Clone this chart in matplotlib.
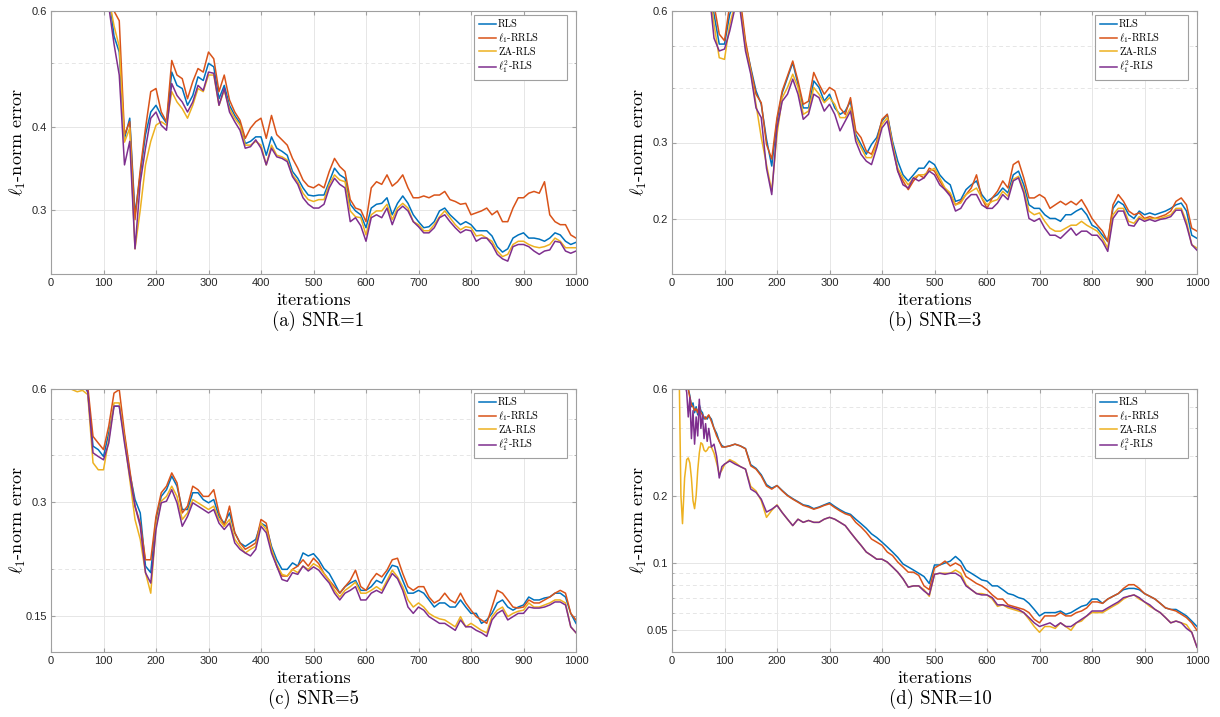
import matplotlib
matplotlib.use("Agg")
import matplotlib.pyplot as plt
from matplotlib.ticker import NullFormatter, FixedLocator

# ---------------- data read off the figure (sampled about every 10 iterations) -------------
# (a) SNR=1
iters_a = list(range(90, 1001, 10))
rls_a = [0.90, 0.75, 0.64, 0.55, 0.52, 0.385, 0.413, 0.295, 0.34, 0.39,
         0.422, 0.432, 0.417, 0.406, 0.485, 0.463, 0.458, 0.432, 0.447, 0.477,
         0.471, 0.500, 0.494, 0.442, 0.463, 0.432, 0.417, 0.406, 0.378, 0.381,
         0.387, 0.387, 0.363, 0.387, 0.372, 0.368, 0.363, 0.343, 0.335, 0.324,
         0.316, 0.315, 0.316, 0.316, 0.331, 0.347, 0.339, 0.335, 0.306, 0.299,
         0.295, 0.282, 0.302, 0.306, 0.307, 0.313, 0.295, 0.307, 0.315, 0.307,
         0.295, 0.288, 0.282, 0.283, 0.288, 0.299, 0.302, 0.295, 0.290, 0.285,
         0.288, 0.285, 0.279, 0.279, 0.279, 0.274, 0.264, 0.259, 0.262, 0.272,
         0.275, 0.277, 0.272, 0.272, 0.271, 0.269, 0.272, 0.277, 0.275, 0.269,
         0.266, 0.268]
rrls_a = [0.92, 0.78, 0.66, 0.60, 0.58, 0.39, 0.408, 0.29, 0.345, 0.399,
          0.453, 0.458, 0.422, 0.408, 0.505, 0.480, 0.474, 0.442, 0.469, 0.491,
          0.485, 0.520, 0.508, 0.453, 0.480, 0.440, 0.422, 0.410, 0.385, 0.399,
          0.408, 0.413, 0.385, 0.417, 0.390, 0.383, 0.376, 0.359, 0.347, 0.333,
          0.326, 0.324, 0.328, 0.324, 0.343, 0.359, 0.349, 0.343, 0.311, 0.302,
          0.300, 0.288, 0.324, 0.331, 0.328, 0.339, 0.326, 0.331, 0.339, 0.324,
          0.313, 0.313, 0.315, 0.313, 0.316, 0.316, 0.320, 0.311, 0.309, 0.306,
          0.307, 0.295, 0.297, 0.299, 0.302, 0.295, 0.299, 0.288, 0.288, 0.302,
          0.313, 0.313, 0.318, 0.320, 0.318, 0.331, 0.295, 0.288, 0.285, 0.285,
          0.275, 0.272]
za_a = [0.90, 0.74, 0.63, 0.57, 0.53, 0.38, 0.399, 0.262, 0.30, 0.351,
        0.381, 0.403, 0.408, 0.403, 0.453, 0.437, 0.427, 0.413, 0.432, 0.458,
        0.453, 0.480, 0.480, 0.432, 0.455, 0.427, 0.413, 0.403, 0.376, 0.376,
        0.381, 0.376, 0.351, 0.376, 0.363, 0.361, 0.357, 0.339, 0.331, 0.318,
        0.311, 0.309, 0.311, 0.311, 0.328, 0.339, 0.333, 0.331, 0.299, 0.293,
        0.292, 0.275, 0.295, 0.299, 0.299, 0.306, 0.290, 0.302, 0.307, 0.302,
        0.288, 0.285, 0.279, 0.279, 0.285, 0.293, 0.299, 0.292, 0.285, 0.280,
        0.283, 0.282, 0.274, 0.275, 0.272, 0.269, 0.260, 0.255, 0.257, 0.266,
        0.269, 0.269, 0.266, 0.264, 0.263, 0.264, 0.266, 0.272, 0.269, 0.263,
        0.263, 0.263]
l12_a = [0.88, 0.72, 0.61, 0.535, 0.48, 0.351, 0.381, 0.262, 0.33, 0.372,
         0.413, 0.422, 0.403, 0.396, 0.466, 0.447, 0.437, 0.422, 0.437, 0.463,
         0.455, 0.485, 0.483, 0.432, 0.458, 0.422, 0.408, 0.396, 0.372, 0.374,
         0.383, 0.372, 0.351, 0.372, 0.361, 0.359, 0.355, 0.337, 0.328, 0.313,
         0.306, 0.302, 0.302, 0.306, 0.324, 0.335, 0.328, 0.324, 0.288, 0.292,
         0.284, 0.269, 0.292, 0.295, 0.292, 0.302, 0.285, 0.299, 0.304, 0.299,
         0.288, 0.283, 0.277, 0.277, 0.282, 0.292, 0.295, 0.288, 0.282, 0.277,
         0.280, 0.279, 0.269, 0.272, 0.272, 0.266, 0.257, 0.253, 0.251, 0.264,
         0.266, 0.266, 0.264, 0.260, 0.257, 0.260, 0.261, 0.269, 0.268, 0.260,
         0.258, 0.260]

# (b) SNR=3
iters_b = list(range(60, 1001, 10))
rls_b = [0.90, 0.72, 0.59, 0.504, 0.504, 0.59, 0.63, 0.62, 0.504, 0.445,
         0.394, 0.367, 0.305, 0.265, 0.336, 0.390, 0.422, 0.457, 0.408, 0.360,
         0.360, 0.415, 0.401, 0.373, 0.387, 0.360, 0.348, 0.354, 0.373, 0.313,
         0.297, 0.282, 0.297, 0.308, 0.336, 0.348, 0.302, 0.272, 0.253, 0.245,
         0.253, 0.262, 0.262, 0.272, 0.267, 0.253, 0.245, 0.240, 0.220, 0.222,
         0.234, 0.240, 0.245, 0.228, 0.220, 0.224, 0.228, 0.236, 0.230, 0.253,
         0.258, 0.240, 0.216, 0.212, 0.212, 0.205, 0.201, 0.201, 0.198, 0.205,
         0.205, 0.209, 0.212, 0.205, 0.194, 0.191, 0.184, 0.178, 0.212, 0.220,
         0.216, 0.205, 0.201, 0.209, 0.205, 0.207, 0.205, 0.207, 0.209, 0.212,
         0.216, 0.218, 0.209, 0.184, 0.181]
rrls_b = [0.92, 0.74, 0.62, 0.531, 0.513, 0.62, 0.66, 0.64, 0.513, 0.441,
          0.387, 0.370, 0.297, 0.275, 0.342, 0.394, 0.426, 0.461, 0.415, 0.367,
          0.373, 0.434, 0.408, 0.387, 0.401, 0.394, 0.360, 0.348, 0.380, 0.319,
          0.308, 0.287, 0.282, 0.302, 0.339, 0.348, 0.297, 0.258, 0.245, 0.234,
          0.245, 0.253, 0.249, 0.262, 0.258, 0.245, 0.234, 0.228, 0.216, 0.220,
          0.228, 0.236, 0.253, 0.224, 0.212, 0.224, 0.232, 0.245, 0.236, 0.267,
          0.272, 0.249, 0.224, 0.224, 0.228, 0.224, 0.212, 0.216, 0.220, 0.216,
          0.220, 0.216, 0.222, 0.212, 0.201, 0.194, 0.188, 0.178, 0.216, 0.228,
          0.220, 0.209, 0.205, 0.207, 0.201, 0.203, 0.201, 0.203, 0.205, 0.209,
          0.220, 0.224, 0.216, 0.191, 0.188]
za_b = [0.88, 0.70, 0.56, 0.469, 0.465, 0.56, 0.62, 0.61, 0.495, 0.436,
        0.367, 0.308, 0.267, 0.232, 0.313, 0.380, 0.401, 0.430, 0.401, 0.348,
        0.354, 0.401, 0.387, 0.370, 0.380, 0.367, 0.342, 0.342, 0.360, 0.308,
        0.292, 0.277, 0.277, 0.297, 0.330, 0.342, 0.297, 0.262, 0.249, 0.240,
        0.249, 0.253, 0.253, 0.258, 0.262, 0.249, 0.236, 0.230, 0.216, 0.218,
        0.228, 0.232, 0.236, 0.224, 0.216, 0.220, 0.222, 0.232, 0.226, 0.247,
        0.251, 0.234, 0.209, 0.205, 0.207, 0.198, 0.191, 0.188, 0.188, 0.191,
        0.194, 0.194, 0.198, 0.194, 0.191, 0.188, 0.181, 0.172, 0.205, 0.212,
        0.212, 0.198, 0.196, 0.203, 0.200, 0.201, 0.201, 0.201, 0.203, 0.205,
        0.212, 0.212, 0.198, 0.175, 0.172]
l12_b = [0.86, 0.68, 0.52, 0.486, 0.491, 0.54, 0.61, 0.60, 0.486, 0.430,
         0.360, 0.342, 0.262, 0.228, 0.324, 0.373, 0.387, 0.419, 0.387, 0.339,
         0.348, 0.387, 0.380, 0.354, 0.367, 0.348, 0.319, 0.336, 0.354, 0.302,
         0.282, 0.272, 0.267, 0.292, 0.324, 0.336, 0.292, 0.258, 0.240, 0.236,
         0.249, 0.245, 0.249, 0.258, 0.253, 0.240, 0.234, 0.226, 0.209, 0.212,
         0.222, 0.228, 0.228, 0.216, 0.212, 0.212, 0.218, 0.228, 0.222, 0.245,
         0.249, 0.230, 0.201, 0.198, 0.201, 0.191, 0.184, 0.184, 0.181, 0.186,
         0.191, 0.184, 0.188, 0.188, 0.184, 0.184, 0.178, 0.169, 0.201, 0.209,
         0.209, 0.194, 0.193, 0.201, 0.198, 0.200, 0.198, 0.200, 0.201, 0.203,
         0.210, 0.210, 0.194, 0.175, 0.170]

# (c) SNR=5
iters_c = list(range(30, 1001, 10))
rls_c = [0.66, 0.65, 0.63, 0.62, 0.59, 0.423, 0.414, 0.397, 0.458, 0.540,
         0.540, 0.449, 0.359, 0.305, 0.281, 0.203, 0.195, 0.270, 0.311, 0.324,
         0.352, 0.331, 0.287, 0.287, 0.318, 0.318, 0.305, 0.299, 0.305, 0.275,
         0.264, 0.281, 0.249, 0.234, 0.229, 0.234, 0.239, 0.264, 0.259, 0.229,
         0.211, 0.199, 0.199, 0.207, 0.203, 0.220, 0.216, 0.219, 0.211, 0.200,
         0.194, 0.183, 0.172, 0.179, 0.183, 0.186, 0.175, 0.175, 0.179, 0.186,
         0.183, 0.194, 0.204, 0.202, 0.186, 0.172, 0.172, 0.175, 0.172, 0.165,
         0.158, 0.162, 0.162, 0.158, 0.158, 0.165, 0.158, 0.152, 0.152, 0.143,
         0.146, 0.152, 0.162, 0.165, 0.158, 0.155, 0.158, 0.160, 0.168, 0.165,
         0.165, 0.167, 0.168, 0.172, 0.172, 0.168, 0.152, 0.143]
rrls_c = [0.68, 0.66, 0.64, 0.63, 0.61, 0.449, 0.431, 0.414, 0.478, 0.585,
          0.598, 0.458, 0.366, 0.293, 0.264, 0.211, 0.211, 0.275, 0.318, 0.331,
          0.359, 0.338, 0.281, 0.293, 0.331, 0.324, 0.311, 0.311, 0.324, 0.281,
          0.259, 0.293, 0.249, 0.234, 0.225, 0.229, 0.234, 0.270, 0.264, 0.225,
          0.203, 0.191, 0.191, 0.199, 0.203, 0.211, 0.203, 0.213, 0.206, 0.194,
          0.186, 0.179, 0.172, 0.179, 0.186, 0.198, 0.179, 0.175, 0.186, 0.194,
          0.190, 0.198, 0.211, 0.213, 0.194, 0.179, 0.175, 0.179, 0.179, 0.168,
          0.162, 0.165, 0.172, 0.165, 0.162, 0.172, 0.162, 0.155, 0.149, 0.146,
          0.143, 0.158, 0.175, 0.172, 0.165, 0.158, 0.157, 0.158, 0.165, 0.162,
          0.162, 0.165, 0.168, 0.172, 0.175, 0.172, 0.152, 0.146]
za_c = [0.62, 0.598, 0.59, 0.595, 0.58, 0.382, 0.366, 0.366, 0.440, 0.551,
        0.551, 0.440, 0.345, 0.270, 0.239, 0.195, 0.172, 0.259, 0.302, 0.311,
        0.331, 0.311, 0.270, 0.281, 0.305, 0.299, 0.293, 0.287, 0.293, 0.270,
        0.259, 0.270, 0.239, 0.229, 0.220, 0.225, 0.229, 0.264, 0.254, 0.225,
        0.205, 0.193, 0.191, 0.199, 0.195, 0.203, 0.199, 0.206, 0.202, 0.194,
        0.186, 0.175, 0.168, 0.175, 0.179, 0.184, 0.172, 0.172, 0.175, 0.179,
        0.175, 0.186, 0.198, 0.190, 0.179, 0.165, 0.158, 0.162, 0.158, 0.152,
        0.149, 0.147, 0.146, 0.143, 0.140, 0.149, 0.140, 0.143, 0.140, 0.137,
        0.135, 0.149, 0.155, 0.158, 0.149, 0.152, 0.154, 0.155, 0.162, 0.158,
        0.158, 0.160, 0.162, 0.165, 0.165, 0.162, 0.140, 0.135]
l12_c = [0.66, 0.65, 0.63, 0.62, 0.59, 0.406, 0.397, 0.389, 0.431, 0.540,
         0.540, 0.431, 0.352, 0.293, 0.259, 0.195, 0.183, 0.254, 0.299, 0.302,
         0.324, 0.299, 0.259, 0.275, 0.299, 0.293, 0.287, 0.281, 0.287, 0.264,
         0.254, 0.264, 0.234, 0.225, 0.220, 0.216, 0.225, 0.259, 0.249, 0.220,
         0.203, 0.187, 0.185, 0.195, 0.193, 0.203, 0.197, 0.202, 0.198, 0.190,
         0.183, 0.172, 0.165, 0.172, 0.175, 0.179, 0.165, 0.165, 0.172, 0.175,
         0.172, 0.183, 0.194, 0.188, 0.175, 0.158, 0.152, 0.158, 0.155, 0.149,
         0.146, 0.143, 0.143, 0.140, 0.137, 0.146, 0.140, 0.140, 0.137, 0.135,
         0.132, 0.146, 0.152, 0.155, 0.146, 0.149, 0.152, 0.152, 0.158, 0.157,
         0.157, 0.158, 0.160, 0.163, 0.163, 0.160, 0.140, 0.135]

# (d) SNR=10  (denser sampling at the start, where the curves are noisy)
iters_d = [0, 10, 14, 17, 20, 24, 28, 31, 34, 37, 40, 43, 46, 49, 52, 55, 58,
           61, 64, 67, 70, 75, 80, 85, 90, 95] + list(range(100, 1001, 10))
rls_d = [2.0, 1.3, 1.0, 0.9, 0.8, 0.72, 0.65, 0.6, 0.56, 0.5, 0.52, 0.47, 0.5,
         0.46, 0.51, 0.48, 0.47, 0.44, 0.45, 0.44, 0.455, 0.44, 0.40, 0.38, 0.35, 0.335,
         0.330, 0.334, 0.340, 0.334, 0.325, 0.275, 0.265, 0.248, 0.224, 0.216,
         0.222, 0.211, 0.201, 0.194, 0.188, 0.182, 0.180, 0.175, 0.178, 0.182,
         0.186, 0.179, 0.173, 0.168, 0.165, 0.157, 0.150, 0.143, 0.135, 0.130,
         0.124, 0.118, 0.112, 0.106, 0.099, 0.096, 0.093, 0.090, 0.087, 0.081,
         0.098, 0.098, 0.100, 0.102, 0.107, 0.102, 0.093, 0.090, 0.087, 0.084,
         0.083, 0.079, 0.079, 0.076, 0.073, 0.072, 0.070, 0.069, 0.066, 0.062,
         0.058, 0.060, 0.060, 0.060, 0.061, 0.059, 0.060, 0.062, 0.064, 0.065,
         0.069, 0.069, 0.066, 0.069, 0.071, 0.073, 0.076, 0.077, 0.077, 0.076,
         0.073, 0.071, 0.069, 0.066, 0.063, 0.062, 0.062, 0.060, 0.058, 0.055,
         0.052]
rrls_d = [2.0, 1.3, 1.0, 0.9, 0.8, 0.72, 0.65, 0.6, 0.55, 0.51, 0.50, 0.48, 0.49,
          0.47, 0.50, 0.47, 0.46, 0.45, 0.44, 0.45, 0.46, 0.43, 0.40, 0.37, 0.35, 0.33,
          0.330, 0.334, 0.340, 0.334, 0.324, 0.272, 0.263, 0.245, 0.221, 0.214,
          0.222, 0.210, 0.200, 0.193, 0.187, 0.181, 0.178, 0.174, 0.177, 0.181,
          0.184, 0.177, 0.171, 0.166, 0.163, 0.152, 0.145, 0.137, 0.128, 0.124,
          0.120, 0.112, 0.108, 0.101, 0.096, 0.091, 0.091, 0.088, 0.079, 0.076,
          0.095, 0.098, 0.102, 0.097, 0.100, 0.097, 0.087, 0.084, 0.081, 0.079,
          0.076, 0.072, 0.069, 0.069, 0.065, 0.064, 0.063, 0.062, 0.060, 0.056,
          0.054, 0.058, 0.058, 0.058, 0.060, 0.058, 0.058, 0.060, 0.061, 0.063,
          0.067, 0.067, 0.066, 0.069, 0.071, 0.073, 0.077, 0.080, 0.080, 0.077,
          0.073, 0.071, 0.069, 0.066, 0.063, 0.062, 0.061, 0.059, 0.057, 0.054,
          0.050]
za_d = [2.0, 1.0, 0.62, 0.2, 0.15, 0.24, 0.29, 0.295, 0.28, 0.24, 0.19, 0.175, 0.2,
        0.26, 0.31, 0.345, 0.34, 0.32, 0.315, 0.32, 0.33, 0.33, 0.31, 0.28, 0.25, 0.26,
        0.275, 0.290, 0.282, 0.270, 0.263, 0.220, 0.210, 0.190, 0.160, 0.172,
        0.182, 0.168, 0.157, 0.147, 0.157, 0.152, 0.155, 0.152, 0.152, 0.157,
        0.160, 0.157, 0.152, 0.147, 0.137, 0.128, 0.120, 0.112, 0.108, 0.104,
        0.104, 0.101, 0.096, 0.091, 0.085, 0.078, 0.079, 0.079, 0.076, 0.071,
        0.089, 0.090, 0.090, 0.090, 0.093, 0.090, 0.080, 0.076, 0.073, 0.073,
        0.072, 0.069, 0.064, 0.065, 0.063, 0.062, 0.061, 0.060, 0.056, 0.052,
        0.049, 0.052, 0.052, 0.051, 0.054, 0.052, 0.050, 0.054, 0.055, 0.058,
        0.060, 0.060, 0.060, 0.062, 0.064, 0.066, 0.069, 0.071, 0.072, 0.069,
        0.067, 0.064, 0.062, 0.060, 0.057, 0.054, 0.055, 0.054, 0.053, 0.049,
        0.042]
l12_d = [2.0, 1.2, 0.9, 0.8, 0.7, 0.64, 0.58, 0.45, 0.55, 0.36, 0.48, 0.34, 0.45,
         0.37, 0.54, 0.40, 0.46, 0.36, 0.42, 0.35, 0.40, 0.33, 0.34, 0.30, 0.24, 0.27,
         0.277, 0.286, 0.277, 0.270, 0.263, 0.214, 0.207, 0.193, 0.169, 0.174,
         0.181, 0.168, 0.157, 0.147, 0.157, 0.152, 0.155, 0.152, 0.152, 0.157,
         0.160, 0.157, 0.152, 0.147, 0.137, 0.128, 0.120, 0.112, 0.108, 0.104,
         0.104, 0.101, 0.096, 0.091, 0.085, 0.078, 0.079, 0.079, 0.075, 0.072,
         0.089, 0.090, 0.089, 0.090, 0.090, 0.087, 0.079, 0.076, 0.073, 0.072,
         0.072, 0.070, 0.065, 0.065, 0.064, 0.063, 0.062, 0.060, 0.057, 0.054,
         0.052, 0.053, 0.054, 0.052, 0.054, 0.052, 0.052, 0.054, 0.056, 0.058,
         0.061, 0.061, 0.061, 0.063, 0.065, 0.067, 0.070, 0.071, 0.072, 0.070,
         0.067, 0.065, 0.062, 0.060, 0.057, 0.054, 0.055, 0.054, 0.051, 0.049,
         0.042]

labels = ['RLS', r'$\ell_1$-RRLS', 'ZA-RLS', r'$\ell_1^2$-RLS']
colors = ['#0072BD', '#D95319', '#EDB120', '#7E2F8E']

# ---------------- figure ----------------
plt.rcParams['font.family'] = 'cmr10'
plt.rcParams['mathtext.fontset'] = 'cm'
plt.rcParams['axes.unicode_minus'] = False

W, H = 1220, 717
fig = plt.figure(figsize=(W / 100, H / 100), dpi=100)

panels = [
    # pixel box (left, top), data, ylim, major ticks, minor ticks, caption, caption pos
    ((51, 11), iters_a, [rls_a, rrls_a, za_a, l12_a], (0.24, 0.6),
     [0.3, 0.4, 0.6], [0.5], '(a) SNR=1', (318, 321)),
    ((672, 11), iters_b, [rls_b, rrls_b, za_b, l12_b], (0.15, 0.6),
     [0.2, 0.3, 0.6], [0.4, 0.5], '(b) SNR=3', (935, 321)),
    ((51, 389), iters_c, [rls_c, rrls_c, za_c, l12_c], (0.12, 0.6),
     [0.15, 0.3, 0.6], [0.2, 0.4, 0.5], '(c) SNR=5', (314, 699)),
    ((672, 389), iters_d, [rls_d, rrls_d, za_d, l12_d], (0.04, 0.6),
     [0.05, 0.1, 0.2, 0.6], [0.06, 0.07, 0.08, 0.09, 0.3, 0.4, 0.5], '(d) SNR=10', (940, 699)),
]
aw, ah = 525, 263
spine_col = '#a0a0a0'
grid_col = '#e6e6e6'

for (px, py), it, series, ylim, yt, ymin, cap, cpos in panels:
    ax = fig.add_axes([px / W, 1 - (py + ah) / H, aw / W, ah / H])
    for vals, lab, col in zip(series, labels, colors):
        ax.plot(it, vals, color=col, lw=1.1, label=lab)
    ax.set_yscale('log')
    ax.set_xlim(0, 1000)
    ax.set_ylim(*ylim)
    ax.set_xticks(range(0, 1001, 100))
    ax.yaxis.set_major_locator(FixedLocator(yt))
    ax.set_yticklabels([f'{v:g}' for v in yt])
    ax.yaxis.set_minor_locator(FixedLocator(ymin))
    ax.yaxis.set_minor_formatter(NullFormatter())

    ax.grid(True, which='major', color=grid_col, lw=0.7)
    ax.grid(True, which='minor', axis='y', color=grid_col, lw=0.7, ls=(0, (4, 3)))
    ax.set_axisbelow(True)
    for s in ax.spines.values():
        s.set_color(spine_col)
        s.set_linewidth(0.8)
    ax.tick_params(which='both', direction='in', top=True, right=True,
                   color=spine_col, labelcolor='#262626', labelsize=8,
                   labelfontfamily='Liberation Sans', pad=3)
    ax.tick_params(which='major', length=3)
    ax.tick_params(which='minor', length=1.5)

    ax.set_xlabel('iterations', fontsize=13, labelpad=3.5)
    ax.set_ylabel(r'$\ell_1$-norm error', fontsize=13)
    ax.yaxis.set_label_coords(-23 / aw, 0.5)

    leg = ax.legend(loc='upper left', bbox_to_anchor=(1 - 102 / aw, 0, 93 / aw, 1 - 4 / ah),
                    mode='expand', borderaxespad=0, fontsize=7.5, handlelength=1.7,
                    handletextpad=0.15, labelspacing=0.2, borderpad=0.45,
                    fancybox=False, framealpha=1, edgecolor=spine_col, alignment='center')
    leg.get_frame().set_linewidth(0.8)

    fig.text(cpos[0] / W, 1 - cpos[1] / H, cap, fontsize=13.5, ha='center', va='center')

fig.savefig('out.png', dpi=100, facecolor='white')
